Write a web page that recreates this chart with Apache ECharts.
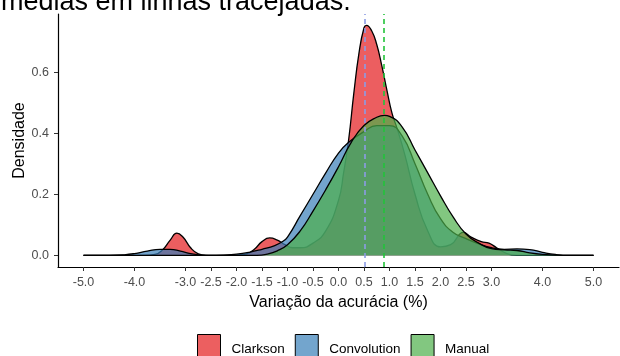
<!DOCTYPE html>
<html>
<head>
<meta charset="utf-8">
<script src="https://cdn.jsdelivr.net/npm/echarts@6/dist/echarts.min.js"></script>
<style>html,body{margin:0;padding:0;background:#fff}#c{width:620px;height:356px}</style>
</head>
<body>
<div id="c"></div>
<script>
// ---- data ----
const seriesNames = ['Clarkson', 'Convolution', 'Manual'];
const titleText = 'médias em linhas tracejadas.';
const xTicks = [-5, -4, -3, -2.5, -2, -1.5, -1, -0.5, 0, 0.5, 1, 1.5, 2, 2.5, 3, 4, 5];
const yTicks = [0, 0.2, 0.4, 0.6];
const meanLines = [0.51, 0.89];

const clarksonX = [-5, -3.8, -3.6, -3.45, -3.3, -3.17, -3.05, -2.9, -2.75, -2.6, -2.2, -2.0, -1.8, -1.65, -1.5, -1.35, -1.2, -1.05, -0.9, -0.75, -0.5, -0.25, 0, 0.1, 0.2, 0.3, 0.4, 0.5, 0.55, 0.65, 0.75, 0.85, 0.95, 1.05, 1.15, 1.3, 1.5, 1.75, 2.0, 2.2, 2.45, 2.6, 2.8, 2.95, 3.1, 3.3, 3.5, 5];
const clarksonY = [0, 0, 0.003, 0.018, 0.05, 0.073, 0.06, 0.025, 0.005, 0, 0, 0.001, 0.005, 0.02, 0.045, 0.057, 0.05, 0.035, 0.025, 0.025, 0.04, 0.08, 0.18, 0.27, 0.38, 0.53, 0.66, 0.745, 0.753, 0.735, 0.69, 0.62, 0.54, 0.465, 0.415, 0.33, 0.2, 0.08, 0.028, 0.035, 0.075, 0.06, 0.045, 0.04, 0.025, 0.006, 0, 0];

const convolutionX = [-5, -4.5, -4.2, -4.0, -3.75, -3.5, -3.3, -3.1, -2.9, -2.7, -2.4, -2.0, -1.75, -1.5, -1.25, -1.1, -1.0, -0.75, -0.5, -0.25, 0, 0.2, 0.5, 0.75, 1.0, 1.25, 1.5, 1.75, 2.0, 2.25, 2.5, 2.75, 3.0, 3.25, 3.5, 3.75, 4.0, 4.25, 4.5, 5];
const convolutionY = [0, 0, 0.002, 0.006, 0.014, 0.02, 0.02, 0.014, 0.006, 0.001, 0, 0.004, 0.01, 0.02, 0.032, 0.045, 0.06, 0.13, 0.2, 0.27, 0.335, 0.37, 0.405, 0.425, 0.425, 0.39, 0.3, 0.2, 0.12, 0.075, 0.055, 0.038, 0.025, 0.02, 0.021, 0.019, 0.01, 0.003, 0, 0];

const manualX = [-5, -1.6, -1.4, -1.2, -1.0, -0.75, -0.5, -0.25, 0, 0.25, 0.5, 0.75, 0.9, 1.0, 1.25, 1.5, 1.75, 2.0, 2.25, 2.5, 2.75, 3.0, 3.25, 3.5, 3.75, 4.0, 4.25, 4.5, 5];
const manualY = [0, 0, 0.004, 0.015, 0.035, 0.08, 0.145, 0.215, 0.29, 0.37, 0.425, 0.452, 0.458, 0.455, 0.42, 0.345, 0.27, 0.195, 0.125, 0.07, 0.04, 0.022, 0.018, 0.016, 0.008, 0.003, 0.001, 0, 0];

// ---- styles ----
const fills = ['rgba(228,26,28,0.7)', 'rgba(55,126,184,0.7)', 'rgba(77,175,74,0.7)'];
const legendFills = ['#EC5F60', '#73A5CD', '#82C780'];
const meanColors = ['#8C9CE4', '#22C33A'];
const FONT = '"Liberation Sans", Arial, sans-serif';

const xs = [clarksonX, convolutionX, manualX];
const ys = [clarksonY, convolutionY, manualY];

const series = seriesNames.map((name, i) => ({
  name: name,
  type: 'line',
  data: xs[i].map((x, k) => [x, ys[i][k]]),
  showSymbol: false,
  smooth: 0.5,
  lineStyle: { color: '#000', width: 1.3 },
  itemStyle: { color: legendFills[i] },
  areaStyle: { color: fills[i], opacity: 1 },
  z: 2 + i,
  silent: true
}));

series.push({
  name: 'means',
  type: 'line',
  data: [],
  z: 10,
  silent: true,
  markLine: {
    symbol: 'none',
    silent: true,
    label: { show: false },
    animation: false,
    data: meanLines.map((v, i) => ({
      xAxis: v,
      lineStyle: { color: meanColors[i], type: [5, 4], width: 1.6 }
    }))
  }
});

const chart = echarts.init(document.getElementById('c'), null, { renderer: 'canvas' });
chart.setOption({
  animation: false,
  backgroundColor: '#fff',
  textStyle: { fontFamily: FONT },
  graphic: [{
    type: 'text',
    left: 1,
    top: -11,
    style: { text: titleText, font: '27px ' + FONT, fill: '#000' }
  }],
  grid: { left: 58, right: 1, top: 14, bottom: 89, containLabel: false, outerBoundsMode: 'none' },
  legend: {
    data: seriesNames.map((n, i) => ({
      name: n,
      itemStyle: { color: legendFills[i], borderColor: '#000', borderWidth: 1 }
    })),
    left: 197,
    top: 334,
    padding: 0,
    icon: 'rect',
    itemWidth: 23,
    itemHeight: 30,
    itemGap: 10,
    textStyle: { fontSize: 13.5, color: '#000', fontFamily: FONT, padding: [0, 0, 0, 6] }
  },
  xAxis: {
    type: 'value',
    min: -5.5,
    max: 5.5,
    name: 'Variação da acurácia (%)',
    nameLocation: 'middle',
    nameGap: 28,
    nameMoveOverlap: false,
    nameTextStyle: { fontSize: 16, color: '#000', fontFamily: FONT },
    axisLine: { onZero: false, lineStyle: { color: '#000', width: 1.2 } },
    axisTick: { show: true, length: 4, lineStyle: { color: '#333' }, customValues: xTicks },
    axisLabel: {
      customValues: xTicks,
      formatter: v => v.toFixed(1),
      fontSize: 12.5, color: '#4D4D4D', margin: 9, fontFamily: FONT
    },
    splitLine: { show: false }
  },
  yAxis: {
    type: 'value',
    min: -0.038,
    max: 0.79,
    name: 'Densidade',
    nameLocation: 'middle',
    nameGap: 30,
    nameMoveOverlap: false,
    nameRotate: 90,
    nameTextStyle: { fontSize: 16, color: '#000', fontFamily: FONT },
    axisLine: { show: true, onZero: false, lineStyle: { color: '#000', width: 1.2 } },
    axisTick: { show: true, length: 4, lineStyle: { color: '#333' }, customValues: yTicks },
    axisLabel: {
      customValues: yTicks,
      formatter: v => v.toFixed(1),
      fontSize: 12.5, color: '#4D4D4D', margin: 9, fontFamily: FONT
    },
    splitLine: { show: false }
  },
  series: series
});
</script>
</body>
</html>
